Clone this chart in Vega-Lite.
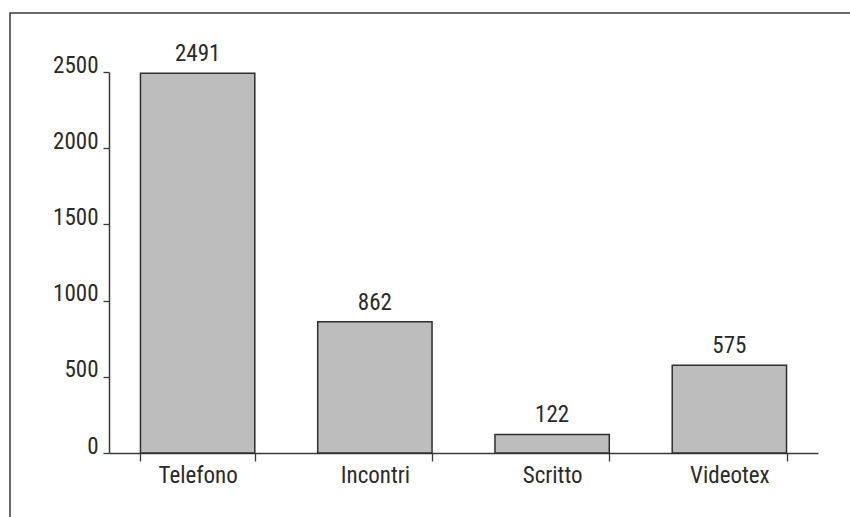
{
  "$schema": "https://vega.github.io/schema/vega-lite/v6.json",
  "autosize": {"type": "none"},
  "padding": {"left": 10, "top": 13, "right": 0, "bottom": 0},
  "width": 841,
  "height": 505,
  "background": "white",
  "config": {
    "view": {"stroke": "#3a3a3a", "strokeWidth": 1.5},
    "font": "Roboto Condensed, Liberation Sans Narrow, Roboto, sans-serif"
  },
  "data": {
    "values": [
      {"categoria": "Telefono", "valore": 2491},
      {"categoria": "Incontri", "valore": 862},
      {"categoria": "Scritto", "valore": 122},
      {"categoria": "Videotex", "valore": 575}
    ]
  },
  "encoding": {
    "x": {
      "field": "categoria",
      "type": "nominal",
      "sort": null,
      "scale": {"range": [99, 808], "paddingInner": 0.355, "paddingOuter": 0.1775},
      "axis": {
        "title": null,
        "orient": "bottom",
        "offset": -65,
        "labelAngle": 0,
        "tickBand": "extent",
        "tickSize": 8,
        "tickColor": "#3a3a3a",
        "tickWidth": 1.3,
        "domainColor": "#3a3a3a",
        "domainWidth": 1.5,
        "labelFont": "Roboto Condensed, Liberation Sans Narrow, Roboto, sans-serif",
        "labelFontSize": 23,
        "labelColor": "#2a2a2a",
        "labelPadding": 3,
        "grid": false
      }
    },
    "y": {
      "field": "valore",
      "type": "quantitative",
      "scale": {"domain": [0, 2500], "range": [440, 59], "nice": false},
      "axis": {
        "title": null,
        "orient": "left",
        "offset": -99,
        "values": [0, 500, 1000, 1500, 2000, 2500],
        "format": "d",
        "tickSize": 6,
        "tickColor": "#3a3a3a",
        "tickWidth": 1.3,
        "domainColor": "#3a3a3a",
        "domainWidth": 1.5,
        "labelFont": "Roboto Condensed, Liberation Sans Narrow, Roboto, sans-serif",
        "labelFontSize": 23,
        "labelColor": "#2a2a2a",
        "labelBaseline": "alphabetic",
        "labelPadding": 5,
        "grid": false
      }
    }
  },
  "layer": [
    {
      "mark": {"type": "bar", "fill": "#bdbdbd", "stroke": "#2e2e2e", "strokeWidth": 1.5}
    },
    {
      "mark": {
        "type": "text",
        "dy": -12,
        "baseline": "alphabetic",
        "align": "center",
        "fontSize": 23,
        "color": "#2a2a2a",
        "font": "Roboto Condensed, Liberation Sans Narrow, Roboto, sans-serif"
      },
      "encoding": {"text": {"field": "valore", "type": "quantitative", "format": "d"}}
    }
  ]
}
